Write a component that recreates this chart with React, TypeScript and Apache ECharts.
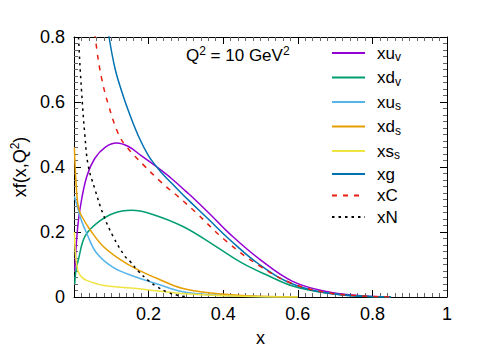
import React, { useEffect, useRef } from "react";
import * as echarts from "echarts";

const seriesNames = ["xu_v", "xd_v", "xu_s", "xd_s", "xs_s", "xg", "xC", "xN"];
const seriesColors = ["#9400d3", "#009e73", "#56b4e9", "#e69f00", "#f0e442", "#0072b2", "#e51e10", "#000000"];

const xTicks = [0, 0.2, 0.4, 0.6, 0.8, 1];
const yTicks = [0, 0.2, 0.4, 0.6, 0.8];

const xuV = [[0.002, 0.08], [0.008, 0.19], [0.016, 0.27], [0.034, 0.37], [0.056, 0.427], [0.085, 0.462], [0.114, 0.474], [0.146, 0.463], [0.181, 0.434], [0.222, 0.4], [0.262, 0.364], [0.3, 0.325], [0.324, 0.3], [0.369, 0.25], [0.417, 0.195], [0.499, 0.115], [0.586, 0.048], [0.676, 0.017], [0.76, 0.005], [0.85, 0.0]];
const xdV = [[0.002, 0.04], [0.005, 0.08], [0.012, 0.116], [0.029, 0.186], [0.06, 0.226], [0.105, 0.257], [0.155, 0.267], [0.203, 0.257], [0.292, 0.217], [0.38, 0.156], [0.45, 0.105], [0.52, 0.066], [0.586, 0.034], [0.676, 0.012], [0.76, 0.003], [0.85, 0.0]];
const xuS = [[0.001, 0.31], [0.006, 0.29], [0.012, 0.265], [0.02, 0.235], [0.034, 0.196], [0.06, 0.136], [0.105, 0.091], [0.168, 0.061], [0.221, 0.041], [0.292, 0.016], [0.38, 0.006], [0.5, 0.001], [0.6, 0.0]];
const xdS = [[0.001, 0.46], [0.004, 0.38], [0.008, 0.31], [0.012, 0.275], [0.02, 0.25], [0.043, 0.207], [0.078, 0.156], [0.123, 0.116], [0.168, 0.086], [0.225, 0.056], [0.292, 0.026], [0.38, 0.011], [0.5, 0.002], [0.6, 0.0]];
const xsS = [[0.001, 0.2], [0.004, 0.13], [0.008, 0.095], [0.012, 0.076], [0.02, 0.062], [0.034, 0.051], [0.078, 0.036], [0.168, 0.026], [0.221, 0.019], [0.3, 0.01], [0.4, 0.004], [0.5, 0.001], [0.6, 0.0]];
const xG = [[0.065, 1.12], [0.08, 0.92], [0.094, 0.8], [0.11, 0.703], [0.128, 0.632], [0.146, 0.572], [0.172, 0.497], [0.199, 0.436], [0.222, 0.4], [0.242, 0.373], [0.262, 0.35], [0.29, 0.317], [0.316, 0.288], [0.36, 0.24], [0.417, 0.177], [0.497, 0.1], [0.586, 0.04], [0.68, 0.012], [0.76, 0.003], [0.85, 0.0]];
const xCv = [[0.03, 1.15], [0.045, 0.93], [0.061, 0.763], [0.074, 0.673], [0.092, 0.592], [0.119, 0.502], [0.141, 0.462], [0.19, 0.402], [0.235, 0.352], [0.28, 0.308], [0.324, 0.263], [0.408, 0.172], [0.497, 0.096], [0.586, 0.041], [0.676, 0.014], [0.76, 0.004], [0.85, 0.0]];
const xNv = [[0.004, 1.1], [0.008, 0.92], [0.012, 0.8], [0.02, 0.638], [0.029, 0.5], [0.038, 0.405], [0.056, 0.332], [0.078, 0.255], [0.105, 0.186], [0.136, 0.126], [0.15, 0.11], [0.172, 0.08], [0.2, 0.05], [0.221, 0.033], [0.25, 0.015], [0.275, 0.006], [0.305, 0.0]];

const seriesData = [xuV, xdV, xuS, xdS, xsS, xG, xCv, xNv];
const dashes: (number[] | string)[] = ["solid", "solid", "solid", "solid", "solid", "solid", [5, 6], [2.5, 4]];

const FONT = "'Liberation Sans', Arial, Helvetica, sans-serif";

export default function App() {
  const ref = useRef<HTMLDivElement>(null);
  useEffect(() => {
    if (!ref.current) return;
    const chart = echarts.init(ref.current, undefined, { renderer: "svg" });
    const axisCommon = {
      type: "value" as const,
      axisLine: { show: true, onZero: false, lineStyle: { color: "#000", width: 1 } },
      axisTick: { show: true, inside: true, length: 7, lineStyle: { color: "#000", width: 1 } },
      minorTick: { show: true, splitNumber: 10, length: 4, lineStyle: { color: "#666", width: 1 } },
      splitLine: { show: false },
    };
    const fmt = (v: number) => String(Number(v.toFixed(1)));
    chart.setOption({
      animation: false,
      backgroundColor: "#fff",
      textStyle: { fontFamily: FONT },
      grid: { left: 74, right: 51, top: 37, bottom: 50 },
      xAxis: [
        {
          ...axisCommon,
          position: "bottom",
          min: xTicks[0],
          max: xTicks[xTicks.length - 1],
          interval: 0.2,
          axisLabel: { show: true, fontSize: 18, color: "#000", margin: 8, fontFamily: FONT, formatter: (v: number) => (v === 0 ? "" : fmt(v)) },
          name: "x",
          nameLocation: "middle",
          nameGap: 32,
          nameTextStyle: { fontSize: 18, color: "#000", fontFamily: FONT },
        },
        {
          ...axisCommon,
          position: "top",
          min: xTicks[0],
          max: xTicks[xTicks.length - 1],
          interval: 0.2,
          axisLabel: { show: false },
        },
      ],
      yAxis: [
        {
          ...axisCommon,
          position: "left",
          min: yTicks[0],
          max: yTicks[yTicks.length - 1],
          interval: 0.2,
          axisLabel: { show: true, fontSize: 18, color: "#000", margin: 9, fontFamily: FONT, formatter: (v: number) => fmt(v) },
          name: "xf(x,Q{sup|2})",
          nameLocation: "middle",
          nameGap: 35,
          nameTextStyle: {
            fontSize: 18,
            color: "#000",
            fontFamily: FONT,
            rich: { sup: { fontSize: 12, color: "#000", fontFamily: FONT, padding: [0, 0, 10, 0] } },
          },
        },
        {
          ...axisCommon,
          position: "right",
          min: yTicks[0],
          max: yTicks[yTicks.length - 1],
          interval: 0.2,
          axisLabel: { show: false },
        },
      ],
      legend: {
        orient: "vertical",
        left: 331,
        top: 43,
        padding: 0,
        itemGap: 4.5,
        itemWidth: 33,
        itemHeight: 14,
        data: seriesNames,
        itemStyle: { opacity: 0 },
        formatter: (name: string) => name.replace(/_(\w)/, "{sub|$1}"),
        textStyle: {
          fontSize: 17,
          color: "#000",
          fontFamily: FONT,
          lineHeight: 16,
          padding: [0, 0, 0, 7],
          rich: { sub: { fontSize: 12, color: "#000", fontFamily: FONT, lineHeight: 16, padding: [8, 0, 0, 0] } },
        },
      },
      graphic: [
        {
          type: "text",
          left: 186,
          top: 45,
          style: {
            text: "Q{sup|2} = 10 GeV{sup|2}",
            font: `17px ${FONT}`,
            fill: "#000",
            rich: { sup: { fontSize: 12, fill: "#000", fontFamily: FONT, padding: [0, 0, 9, 0] } },
          },
        },
      ],
      series: seriesNames.map((n, i) => ({
        name: n,
        type: "line",
        data: seriesData[i],
        showSymbol: false,
        symbol: "none",
        smooth: 0.4,
        clip: true,
        color: seriesColors[i],
        lineStyle: { color: seriesColors[i], width: 1.5, type: dashes[i] },
        itemStyle: { color: seriesColors[i] },
        z: 2,
      })),
    });
    return () => chart.dispose();
  }, []);
  return <div ref={ref} style={{ position: "fixed", left: 0, top: 0, width: 498, height: 352 }} />;
}
